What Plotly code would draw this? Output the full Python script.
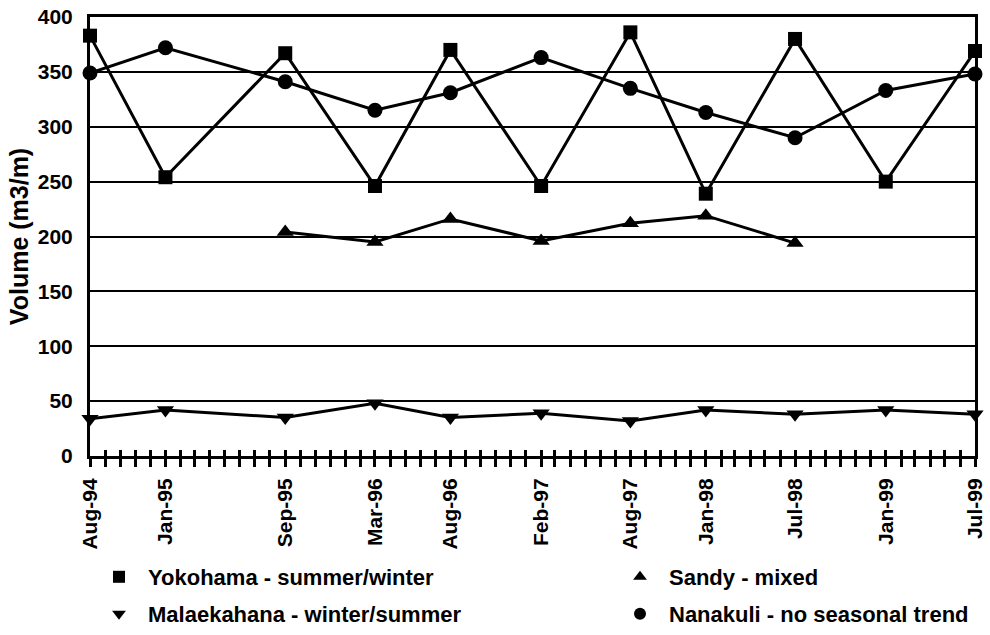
import pandas as pd
import plotly.graph_objects as go

# Survey dates (month starts) and labels
survey_dates = ["1994-08-01", "1995-01-01", "1995-09-01", "1996-03-01", "1996-08-01",
                "1997-02-01", "1997-08-01", "1998-01-01", "1998-07-01", "1999-01-01",
                "1999-07-01"]
survey_labels = ["Aug-94", "Jan-95", "Sep-95", "Mar-96", "Aug-96", "Feb-97",
                 "Aug-97", "Jan-98", "Jul-98", "Jan-99", "Jul-99"]

# Beach volumes (m3/m)
yokohama = [383, 254, 367, 246, 370, 246, 386, 239, 380, 250, 369]
nanakuli = [349, 372, 341, 315, 331, 363, 335, 313, 290, 333, 348]
sandy_dates = ["1995-09-01", "1996-03-01", "1996-08-01", "1997-02-01",
               "1997-08-01", "1998-01-01", "1998-07-01"]
sandy = [204, 195, 216, 196, 212, 219, 194]
malaekahana = [34, 42, 35, 48, 35, 39, 32, 42, 38, 42, 38]

y_ticks = [0, 50, 100, 150, 200, 250, 300, 350, 400]

FONT = "Liberation Sans, Arial, sans-serif"
x_range = ["1994-08-01", "1999-07-01"]

# monthly tick positions; only survey months carry a label
months = pd.date_range(x_range[0], x_range[1], freq="MS")
month_vals = [d.strftime("%Y-%m-%d") for d in months]
month_text = [survey_labels[survey_dates.index(v)] if v in survey_dates else ""
              for v in month_vals]

series = [
    ("Yokohama - summer/winter", survey_dates, yokohama, "square", 14, "legend"),
    ("Sandy - mixed", sandy_dates, sandy, "triangle-up", 15, "legend2"),
    ("Malaekahana - winter/summer", survey_dates, malaekahana, "triangle-down", 15, "legend3"),
    ("Nanakuli - no seasonal trend", survey_dates, nanakuli, "circle", 15, "legend4"),
]

fig = go.Figure()
for name, xs, ys, sym, size, _ in series:
    fig.add_trace(go.Scatter(
        x=xs, y=ys, mode="lines+markers", name=name, showlegend=False,
        line=dict(color="black", width=3),
        marker=dict(symbol=sym, size=size, color="black"),
        cliponaxis=False,
    ))

# legend entries: marker only (placed on the overlay axis so it is drawn)
for name, xs, ys, sym, size, leg in series:
    fig.add_trace(go.Scatter(
        x=[None], y=[None], mode="markers", name=name, legend=leg, xaxis="x2",
        marker=dict(symbol=sym, size=12, color="black"),
    ))

W, H = 990, 635


def cx(p):
    return p / W


def cy(p):
    return (H - p) / H


leg_font = dict(size=22, weight="bold")
leg_common = dict(orientation="h", xanchor="left", yanchor="middle", itemwidth=48,
                  xref="container", yref="container",
                  font=leg_font, bgcolor="rgba(0,0,0,0)", borderwidth=0)

fig.update_layout(
    width=W, height=H,
    margin=dict(l=90, r=15, t=17, b=179, autoexpand=False),
    plot_bgcolor="white", paper_bgcolor="white",
    font=dict(family=FONT, size=21, color="black", weight="bold"),
    legend=dict(x=cx(90), y=cy(577), **leg_common),
    legend2=dict(x=cx(611), y=cy(577), **leg_common),
    legend3=dict(x=cx(90), y=cy(614), **leg_common),
    legend4=dict(x=cx(611), y=cy(614), **leg_common),
    xaxis=dict(
        type="date", range=x_range,
        tickvals=month_vals, ticktext=month_text, tickangle=-90,
        ticks="outside", ticklen=8, tickwidth=3, tickcolor="black",
        ticklabelstandoff=3,
        showgrid=False, showline=True, linecolor="black", linewidth=3, mirror=True,
        tickfont=dict(size=21, weight="bold"), zeroline=False,
    ),
    xaxis2=dict(
        type="date", range=x_range, overlaying="x", anchor="y", side="bottom",
        tickvals=month_vals, ticks="inside", ticklen=6, tickwidth=3,
        tickcolor="black", showticklabels=False, showgrid=False, showline=False,
        zeroline=False,
    ),
    yaxis=dict(
        range=[0, 400], tickvals=y_ticks, ticks="", ticklabelstandoff=10,
        showgrid=True, gridcolor="black", gridwidth=2,
        showline=True, linecolor="black", linewidth=3, mirror=True, zeroline=False,
        tickfont=dict(size=21, weight="bold"),
        title=dict(text="Volume (m3/m)", font=dict(size=25, weight="bold"), standoff=3),
    ),
)

fig.write_html("out.html")
